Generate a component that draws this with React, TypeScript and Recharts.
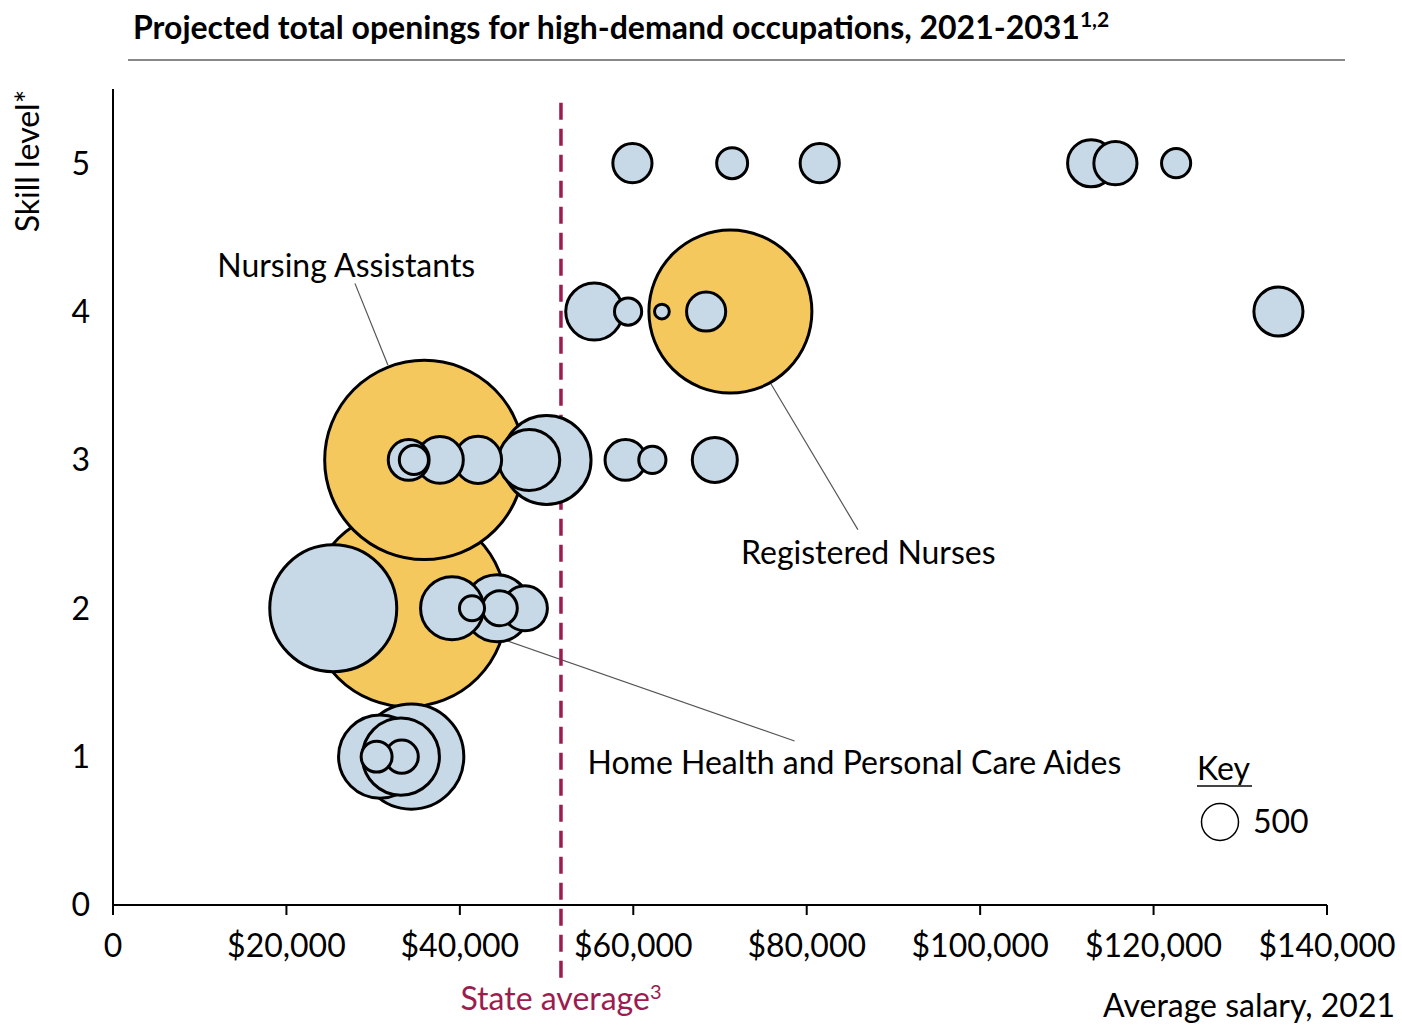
import { ScatterChart, Scatter, XAxis, YAxis, ZAxis, ReferenceLine, ReferenceDot } from 'recharts'

// salary (USD), skill level, projected openings
const highlightSalary = [34000, 35900, 71200]
const highlightSkill = [2, 3, 4]
const highlightOpenings = [14200, 14500, 9700]
const highlightNames = ['Home Health and Personal Care Aides', 'Nursing Assistants', 'Registered Nurses']

const otherSalary = [
  59900, 71400, 81500, 112800, 115600, 122600,
  55500, 59400, 63300, 68400, 134400,
  50000, 48000, 42100, 37700, 34100, 34700, 59100, 62200, 69400,
  25400, 39100, 44300, 47500, 44600, 41400,
  34400, 30800, 33200, 30400, 33300,
]
const otherSkill = [
  5, 5, 5, 5, 5, 5,
  4, 4, 4, 4, 4,
  3, 3, 3, 3, 3, 3, 3, 3, 3,
  2, 2, 2, 2, 2, 2,
  1, 1, 1, 1, 1,
]
const otherOpenings = [
  560, 350, 560, 810, 680, 310,
  1190, 270, 80, 560, 880,
  2890, 1360, 810, 800, 610, 310, 610, 270, 740,
  5890, 1450, 1640, 740, 450, 230,
  4030, 2520, 2170, 350, 400,
]

const xTicks = [0, 20000, 40000, 60000, 80000, 100000, 120000, 140000]
const yTicks = [0, 1, 2, 3, 4, 5]
const stateAverage = 51660

const annotations = [
  { text: 'Nursing Assistants', x: 26900, y: 4.32 },
  { text: 'Registered Nurses', x: 87100, y: 2.38 },
  { text: 'Home Health and Personal Care Aides', x: 85500, y: 0.964 },
]
const leaders = [
  { x1: 27900, y1: 4.19, x2: 31700, y2: 3.64 },
  { x1: 85900, y1: 2.53, x2: 75800, y2: 3.52 },
  { x1: 78600, y1: 1.105, x2: 45200, y2: 1.786 },
]

const highlight = highlightSalary.map((x, i) => ({ x, y: highlightSkill[i], z: highlightOpenings[i], name: highlightNames[i] }))
const others = otherSalary
  .map((x, i) => ({ x, y: otherSkill[i], z: otherOpenings[i] }))
  .sort((a, b) => b.z - a.z)

// 500 openings -> radius 18.5px
const KEY_R = 18.5
const maxZ = 20000
const maxArea = (maxZ / 500) * Math.PI * KEY_R * KEY_R

const FONT = 'Lato, "Noto Sans", sans-serif'
const MAROON = '#9b1d4f'
const FS = 32

const bubble = (fill: string) => (p: any) => {
  const r = p.size != null ? Math.sqrt(p.size / Math.PI) : p.width / 2
  return <circle cx={p.cx} cy={p.cy} r={r} fill={fill} stroke="#000" strokeWidth={3} />
}

const fmtSalary = (v: number) => (v === 0 ? '0' : `$${v.toLocaleString('en-US')}`)

export default function App() {
  return (
    <div style={{ position: 'absolute', left: 0, top: 0, width: 1402, height: 1025, fontFamily: FONT, background: '#fff', overflow: 'hidden' }}>
      <ScatterChart width={1402} height={1025} margin={{ top: 89, right: 75, bottom: 60, left: 53 }}>
        <XAxis
          type="number"
          dataKey="x"
          domain={[0, 140000]}
          ticks={xTicks}
          interval={0}
          tickFormatter={fmtSalary}
          height={60}
          stroke="#000"
          strokeWidth={2}
          tickSize={10}
          tickMargin={19}
          tick={{ fontSize: FS, fill: '#000' }}
        />
        <YAxis
          type="number"
          dataKey="y"
          domain={[0, 5.5]}
          ticks={yTicks}
          interval={0}
          width={60}
          stroke="#000"
          strokeWidth={2}
          tickLine={false}
          tickSize={0}
          tickMargin={23}
          tick={{ fontSize: FS, fill: '#000' }}
        />
        <ZAxis type="number" dataKey="z" domain={[0, maxZ]} range={[0, maxArea]} />
        {leaders.map((l, i) => (
          <ReferenceLine
            key={`ld${i}`}
            segment={[{ x: l.x1, y: l.y1 }, { x: l.x2, y: l.y2 }]}
            stroke="#555"
            strokeWidth={1.2}
            ifOverflow="visible"
          />
        ))}
        <Scatter data={highlight} shape={bubble('#f5c85e')} isAnimationActive={false} />
        <Scatter data={others} shape={bubble('#c7d9e6')} isAnimationActive={false} />
        <ReferenceLine
          segment={[{ x: stateAverage, y: -0.49 }, { x: stateAverage, y: 5.46 }]}
          stroke={MAROON}
          strokeWidth={3.5}
          strokeDasharray="17 9"
          ifOverflow="visible"
        />
        {annotations.map((a, i) => (
          <ReferenceDot
            key={`an${i}`}
            x={a.x}
            y={a.y}
            ifOverflow="visible"
            shape={(p: any) => (
              <text x={p.cx} y={p.cy} textAnchor="middle" dominantBaseline="central" fontSize={FS} fill="#000">
                {a.text}
              </text>
            )}
          />
        ))}
      </ScatterChart>

      <svg width={1402} height={1025} style={{ position: 'absolute', left: 0, top: 0, pointerEvents: 'none' }}>
        <text x={133} y={39} fontSize={32} fontWeight={700} fill="#000">
          Projected total openings for high-demand occupations, 2021-2031
          <tspan fontSize={21} dy={-12}>1,2</tspan>
        </text>
        <line x1={128} x2={1345} y1={60} y2={60} stroke="#888" strokeWidth={2} />
        <text transform="translate(39,161) rotate(-90)" textAnchor="middle" fontSize={FS} fill="#000">
          Skill level*
        </text>
        <text x={561} y={1010} textAnchor="middle" fontSize={FS} fill={MAROON}>
          State average<tspan fontSize={20} dy={-11}>3</tspan>
        </text>
        <text x={1395} y={1017} textAnchor="end" fontSize={FS} fill="#000">
          Average salary, 2021
        </text>
        <text x={1197} y={780} fontSize={FS} fill="#000">Key</text>
        <line x1={1197} x2={1252} y1={786} y2={786} stroke="#444" strokeWidth={2} />
        <circle cx={1220} cy={822} r={KEY_R} fill="#fff" stroke="#000" strokeWidth={1.5} />
        <text x={1253} y={833} fontSize={FS} fill="#000">500</text>
      </svg>
    </div>
  )
}
